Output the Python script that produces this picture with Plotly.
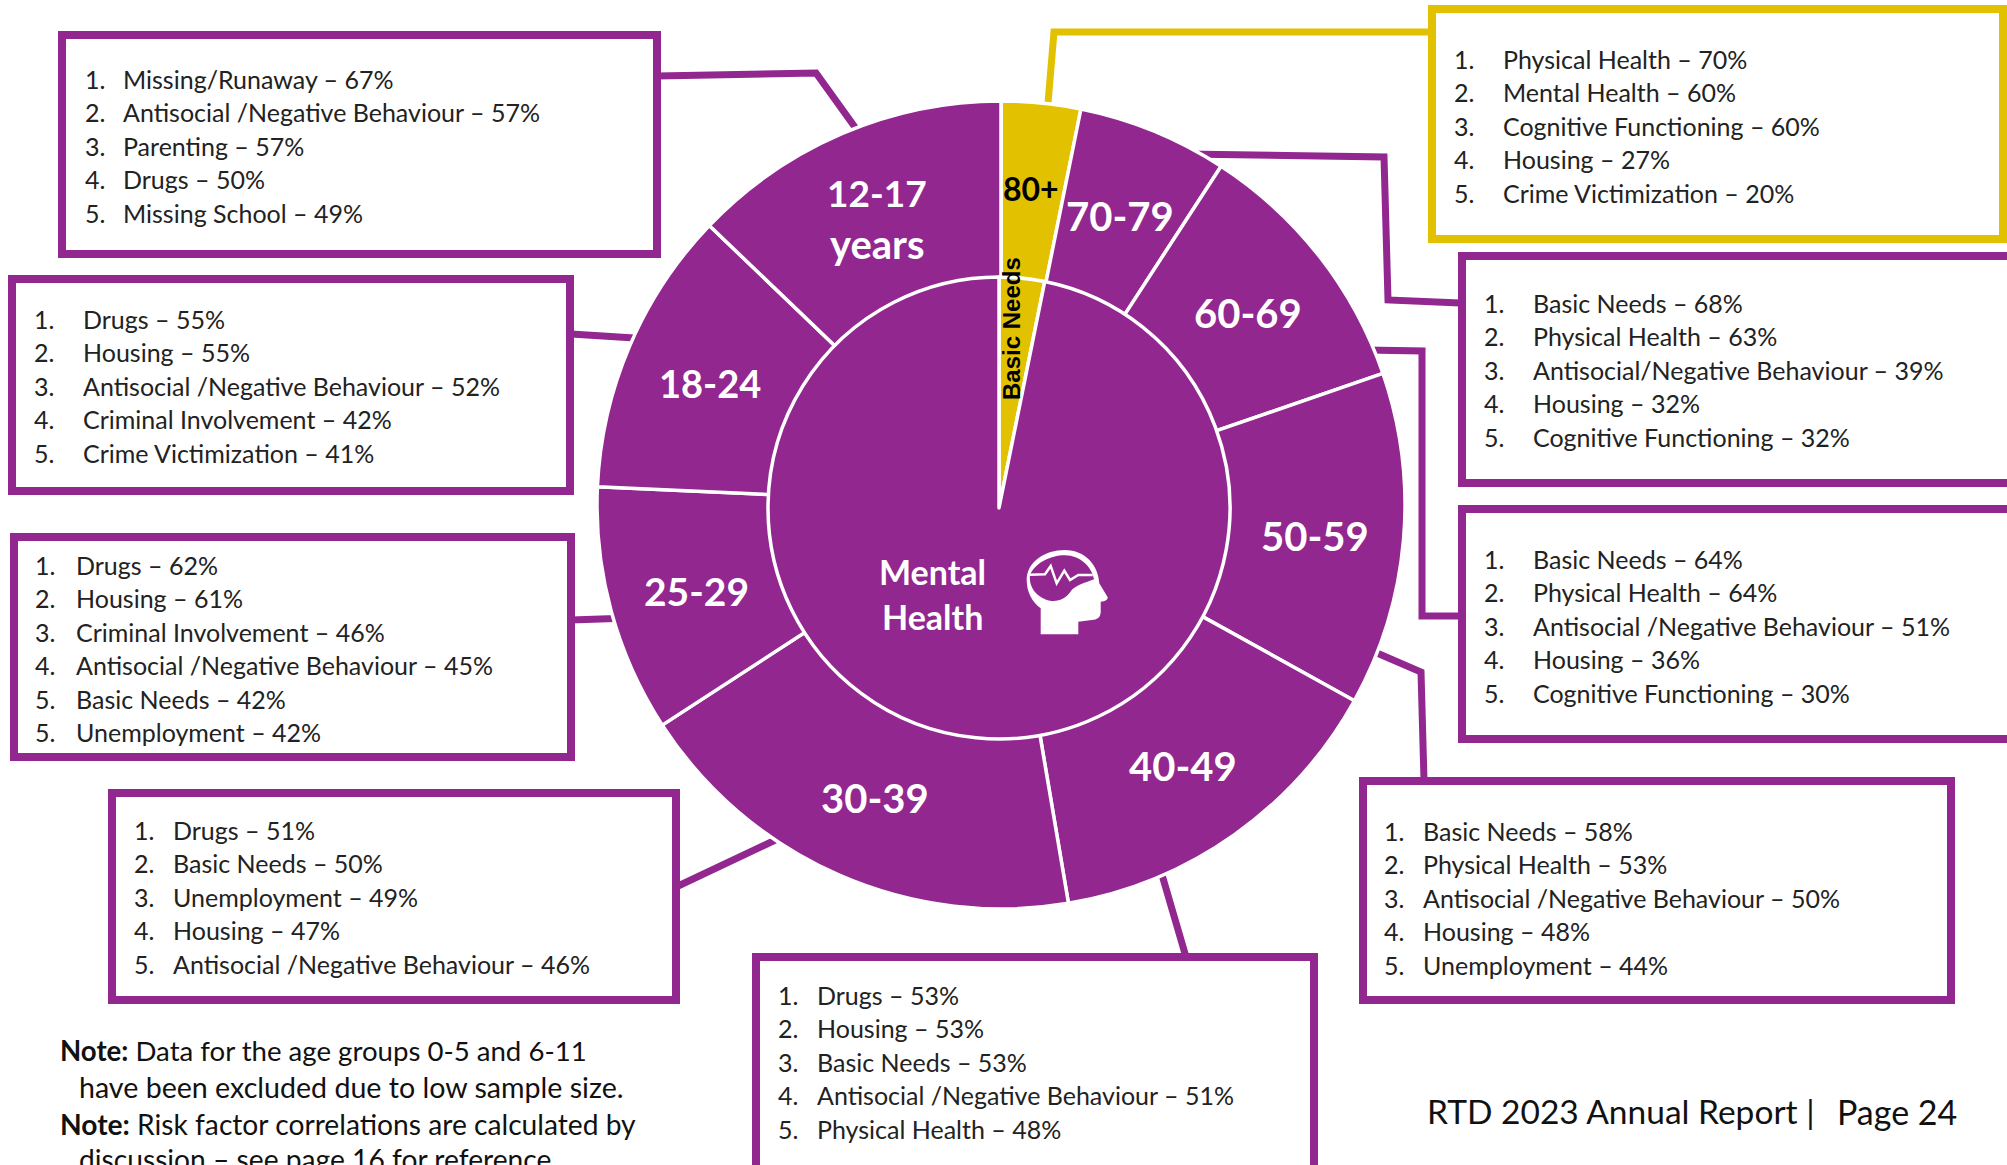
import plotly.graph_objects as go

W, H = 2007, 1165
PURPLE = "#92278F"
GOLD = "#E2C100"
FONT = "Lato"

age_groups = ["80+", "70-79", "60-69", "50-59", "40-49", "30-39", "25-29", "18-24", "12-17"]
age_shares = [3.17, 6.0, 10.55, 13.33, 14.28, 18.5, 9.89, 11.44, 12.84]
need_labels = ["Basic Needs", "Other"]
need_shares = [3.17, 96.83]

box_80 = ["Physical Health – 70%", "Mental Health – 60%", "Cognitive Functioning – 60%", "Housing – 27%", "Crime Victimization – 20%"]
box_70 = ["Basic Needs – 68%", "Physical Health – 63%", "Antisocial/Negative Behaviour – 39%", "Housing – 32%", "Cognitive Functioning – 32%"]
box_60 = ["Basic Needs – 64%", "Physical Health – 64%", "Antisocial /Negative Behaviour – 51%", "Housing – 36%", "Cognitive Functioning – 30%"]
box_50 = ["Basic Needs – 58%", "Physical Health – 53%", "Antisocial /Negative Behaviour – 50%", "Housing – 48%", "Unemployment – 44%"]
box_40 = ["Drugs – 53%", "Housing – 53%", "Basic Needs – 53%", "Antisocial /Negative Behaviour – 51%", "Physical Health – 48%"]
box_30 = ["Drugs – 51%", "Basic Needs – 50%", "Unemployment – 49%", "Housing – 47%", "Antisocial /Negative Behaviour – 46%"]
box_25 = ["Drugs – 62%", "Housing – 61%", "Criminal Involvement – 46%", "Antisocial /Negative Behaviour – 45%", "Basic Needs – 42%", "Unemployment – 42%"]
box_18 = ["Drugs – 55%", "Housing – 55%", "Antisocial /Negative Behaviour – 52%", "Criminal Involvement – 42%", "Crime Victimization – 41%"]
box_12 = ["Missing/Runaway – 67%", "Antisocial /Negative Behaviour – 57%", "Parenting – 57%", "Drugs – 50%", "Missing School – 49%"]

OCX, OCY, R = 1001, 505, 404
CX, CY, RI = 999, 508, 231

def dom(cx, cy, r):
    return dict(x=[(cx - r) / W, (cx + r) / W], y=[1 - (cy + r) / H, 1 - (cy - r) / H])

fig = go.Figure()
fig.add_trace(go.Scatter(x=[0], y=[0], mode="markers", marker=dict(opacity=0), showlegend=False, hoverinfo="skip"))
fig.add_trace(go.Pie(labels=age_groups, values=age_shares, sort=False, direction="clockwise", rotation=0,
                     hole=0.5, domain=dom(OCX, OCY, R), textinfo="none", showlegend=False,
                     marker=dict(colors=[GOLD] + [PURPLE] * 8, line=dict(color="white", width=3.5))))
fig.add_trace(go.Pie(labels=need_labels, values=need_shares, sort=False, direction="clockwise", rotation=0,
                     domain=dom(CX, CY, RI), textinfo="none", showlegend=False,
                     marker=dict(colors=[GOLD, PURPLE], line=dict(color="white", width=3.5))))

shapes = []
def poly(pts, color):
    d = "M " + " L ".join(f"{x},{y}" for x, y in pts)
    shapes.append(dict(type="path", path=d, xref="x", yref="y", layer="below", line=dict(color=color, width=7)))

def box(x0, y0, x1, y1, color):
    shapes.append(dict(type="rect", xref="x", yref="y", x0=x0, y0=y0, x1=x1, y1=y1, layer="below",
                       fillcolor="white", line=dict(color=color, width=8)))

poly([(657, 76), (816, 73), (857, 130)], PURPLE)
poly([(571, 334), (650, 339)], PURPLE)
poly([(571, 620), (630, 618)], PURPLE)
poly([(676, 887), (790, 833)], PURPLE)
poly([(1160, 868), (1186, 957)], PURPLE)
poly([(1370, 650), (1421, 672), (1424, 780)], PURPLE)
poly([(1365, 350), (1422, 351), (1422, 616), (1460, 616)], PURPLE)
poly([(1185, 154), (1384, 157), (1388, 300), (1460, 303)], PURPLE)
poly([(1047, 115), (1054, 32), (1431, 32)], GOLD)

boxes = [
    (62, 35, 657, 254, PURPLE, box_12, 123, 85, 79),
    (12, 279, 570, 491, PURPLE, box_18, 81, 34, 319),
    (14, 537, 571, 757, PURPLE, box_25, 74, 35, 565),
    (112, 793, 676, 1000, PURPLE, box_30, 173, 134, 830),
    (756, 957, 1314, 1175, PURPLE, box_40, 817, 778, 995),
    (1363, 781, 1951, 1000, PURPLE, box_50, 1423, 1384, 831),
    (1462, 509, 2015, 739, PURPLE, box_60, 1533, 1484, 559),
    (1462, 256, 2015, 483, PURPLE, box_70, 1533, 1484, 303),
    (1432, 9, 2003, 239, GOLD, box_80, 1503, 1454, 59),
]
shift = {id(box_18): 0, id(box_25): 0}

ann = []
def text(x, y, s, size, color="#222222", anchor="left", family=FONT, angle=0):
    ann.append(dict(x=x, y=y, xref="x", yref="y", text=s, showarrow=False, xanchor=anchor, yanchor="middle",
                    align=anchor, textangle=angle, font=dict(family=family, size=size, color=color)))

for x0, y0, x1, y1, c, items, tx, nx, ty in boxes:
    box(x0, y0, x1, y1, c)
    nums = [1, 2, 3, 4, 5, 5] if items is box_25 else range(1, 6)
    dx = shift.get(id(items), -2.5)
    for i, (n, t) in enumerate(zip(nums, items)):
        y = ty + i * 33.4
        text(nx - 2.5, y, f"{n}.", 25)
        text(tx + dx, y, t, 25)

for s, x, y, size in [("70-79", 1120, 216, 40), ("60-69", 1248, 313, 40), ("50-59", 1315, 536, 40), ("40-49", 1183, 766, 40),
                      ("30-39", 875, 798, 40), ("25-29", 696, 591, 39), ("18-24", 710, 383, 38), ("12-17", 877, 192, 37), ("years", 877, 244, 40)]:
    text(x, y, f"<b>{s}</b>", size, "white", "center")
text(1031, 188, "<b>80+</b>", 32, "black", "center")
text(1011, 329, "<b>Basic Needs</b>", 24, "black", "center", "Liberation Sans", -90)
text(932, 571, "<b>Mental</b>", 34, "white", "center")
text(932, 616, "<b>Health</b>", 34, "white", "center")

text(58, 1050, "<b>Note:</b> Data for the age groups 0-5 and 6-11", 27.6, "#111111")
text(77, 1087, "have been excluded due to low sample size.", 28.6, "#111111")
text(58, 1124, "<b>Note:</b> Risk factor correlations are calculated by", 28.2, "#111111")
text(77, 1159, "discussion – see page 16 for reference", 28.2, "#111111")
text(1425, 1111, "RTD 2023 Annual Report |", 33.5, "#111111")
text(1835, 1111, "Page 24", 34, "#111111")

# brain-in-head icon, drawn in crop coordinates at one third scale
def icon(d, **kw):
    out = []
    for tok in d.split():
        if "," in tok:
            a, b = tok.split(",")
            out.append(f"{1010 + float(a) / 3:.1f},{540 + float(b) / 3:.1f}")
        else:
            out.append(tok)
    shapes.append(dict(type="path", path=" ".join(out), xref="x", yref="y", layer="above", **kw))

icon("M 92,283 L 92,205 C 65,185 50,155 50,120 C 50,65 105,30 165,30 C 225,30 265,75 268,130 "
     "L 293,172 Q 294,184 272,185 L 272,218 Q 270,240 245,240 L 205,245 L 205,283 Z",
     fillcolor="white", line=dict(width=0))
icon("M 60,105 C 75,70 120,46 165,46 C 210,46 245,80 252,118 C 225,128 200,135 185,150 "
     "C 170,175 145,186 120,182 C 85,175 55,145 60,105 Z",
     fillcolor=PURPLE, line=dict(width=0))
icon("M 60,104 L 105,103 L 122,78 L 140,130 L 163,92 L 180,120 L 205,105 L 248,105",
     line=dict(color="white", width=2.5))

fig.update_layout(width=W, height=H, margin=dict(l=0, r=0, t=0, b=0), paper_bgcolor="white", plot_bgcolor="white",
                  xaxis=dict(range=[0, W], visible=False, fixedrange=True),
                  yaxis=dict(range=[H, 0], visible=False, fixedrange=True),
                  shapes=shapes, annotations=ann, showlegend=False)
fig.write_html("out.html", config=dict(displayModeBar=False),
               post_script="document.body.style.margin='0';document.documentElement.style.overflow='hidden';")
